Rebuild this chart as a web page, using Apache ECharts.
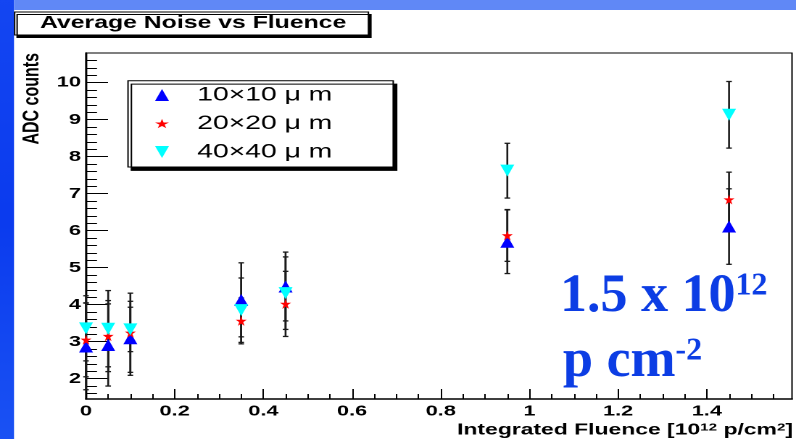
<!DOCTYPE html>
<html>
<head>
<meta charset="utf-8">
<script src="https://cdn.jsdelivr.net/npm/echarts@6/dist/echarts.min.js"></script>
<style>
  html, body { margin: 0; padding: 0; background: #ffffff; overflow: hidden; }
  /* the ROOT canvas is drawn narrow and widened horizontally, like the pasted slide figure */
  #chart { width: 549px; height: 439px; transform: scaleX(1.449909); transform-origin: 0 0; }
</style>
</head>
<body>
<div id="chart"></div>
<script>
// Average noise (ADC counts) of three pixel sizes versus integrated proton fluence
const fluence = [0, 0.05, 0.1, 0.35, 0.45, 0.95, 1.45];          // 10^12 p/cm^2

const noise10 = [2.87, 2.91, 3.09, 4.13, 4.49, 5.70, 6.11];
const err10   = [1.17, 1.11, 1.00, 1.00, 0.93, 0.86, 1.02];

const noise20 = [3.05, 3.15, 3.24, 3.56, 4.02, 5.87, 6.84];
const err20   = [1.00, 0.96, 1.07, 0.62, 0.88, 0.70, 0.74];

const noise40 = [3.36, 3.35, 3.33, 3.85, 4.31, 7.62, 9.13];
const err40   = [0.88, 1.03, 0.60, 0.87, 0.98, 0.74, 0.90];

const seriesNames = ['10×10 μ m', '20×20 μ m', '40×40 μ m'];

// axis ticks / labels
const xTicks = [0, 0.2, 0.4, 0.6, 0.8, 1, 1.2, 1.4];
const yTicks = [2, 3, 4, 5, 6, 7, 8, 9, 10];
const xRange = [0, 1.592];
const yRange = [1.45, 10.8];

// minor ticks: every 0.05 on x, every 0.2 on y
function steps(from, to, step) {
  const out = [];
  for (let k = Math.round(from / step); k * step <= to + 1e-9; k++) out.push(+(k * step).toFixed(4));
  return out;
}
const xMinor = steps(0.05, 1.55, 0.05);
const yMinor = steps(1.6, 10.6, 0.2);

const S = 796 / 549;            // horizontal widening of the canvas
const X = v => v / S;           // screen px -> canvas px (horizontal only)

const FONT = "'Liberation Sans', Arial, Helvetica, sans-serif";
const SERIF = "'Liberation Serif', 'Times New Roman', serif";

const STAR = 'path://M50,0 L61,35 L98,35 L68,57 L79,91 L50,70 L21,91 L32,57 L2,35 L39,35 Z';
const DOWN = 'path://M0,0 L100,0 L50,124 Z';

const colors = ['#0000ff', '#ff0000', '#00ffff'];
const symbols = ['triangle', STAR, DOWN];
const sizes = [[X(14), 12], [X(11), 10], [X(14), 12]];
const values = [noise10, noise20, noise40];
const errors = [err10, err20, err40];

const gridBox = { left: X(86), top: 53, width: X(706), height: 346 };

function errorBars(params, api) {
  const x = api.value(0), y = api.value(1), e = api.value(2);
  const hi = api.coord([x, y + e]);
  const lo = api.coord([x, y - e]);
  const cap = X(2.8);
  const st = { stroke: '#1a1a1a', lineWidth: 1.3 };
  return {
    type: 'group',
    children: [
      { type: 'line', shape: { x1: hi[0], y1: hi[1], x2: lo[0], y2: lo[1] }, style: st },
      { type: 'line', shape: { x1: hi[0] - cap, y1: hi[1], x2: hi[0] + cap, y2: hi[1] }, style: st },
      { type: 'line', shape: { x1: lo[0] - cap, y1: lo[1], x2: lo[0] + cap, y2: lo[1] }, style: st }
    ]
  };
}

const series = [];
values.forEach((vals, s) => {
  series.push({
    name: 'err' + s,
    type: 'custom',
    xAxisIndex: 0, yAxisIndex: 0,
    renderItem: errorBars,
    data: fluence.map((f, i) => [f, vals[i], errors[s][i]]),
    z: 2,
    silent: true
  });
});
[0, 2, 1].forEach(s => {
  series.push({
    name: seriesNames[s],
    type: 'scatter',
    xAxisIndex: 0, yAxisIndex: 0,
    symbol: symbols[s],
    symbolSize: sizes[s],
    itemStyle: { color: colors[s], opacity: 1 },
    data: fluence.map((f, i) => [f, values[s][i]]),
    z: 3 + s,
    emphasis: { disabled: true }
  });
});

const chart = echarts.init(document.getElementById('chart'), null, { devicePixelRatio: 2 });
chart.setOption({
  animation: false,
  backgroundColor: '#ffffff',
  title: {
    text: 'Average Noise vs Fluence',
    left: X(14), top: 12,
    padding: [1.5, X(22), 1.5, X(26)],
    backgroundColor: '#ffffff',
    borderColor: '#000', borderWidth: 1,
    shadowColor: '#000', shadowBlur: 0, shadowOffsetX: X(2.5), shadowOffsetY: 2.5,
    textStyle: { fontFamily: FONT, fontWeight: 'bold', fontSize: 17.1, color: '#000', lineHeight: 20 }
  },
  legend: {
    orient: 'vertical',
    left: X(128), top: 80.7,
    data: seriesNames.map((n, s) => ({ name: n, icon: symbols[s] })),
    itemWidth: X(14), itemHeight: 12, itemGap: 8.5,
    padding: [4.3, X(61), 5, X(27)],
    backgroundColor: '#ffffff',
    borderColor: '#000', borderWidth: 1,
    shadowColor: '#000', shadowBlur: 0, shadowOffsetX: X(3.4), shadowOffsetY: 3.4,
    selectedMode: false,
    textStyle: { fontFamily: FONT, fontSize: 19.5, color: '#000', lineHeight: 20, padding: [0, 0, 0, X(21)] }
  },
  grid: [
    Object.assign({ show: true, borderColor: '#000', borderWidth: 1, backgroundColor: 'transparent', outerBoundsMode: 'none' }, gridBox),
    Object.assign({ show: false, outerBoundsMode: 'none' }, gridBox)
  ],
  xAxis: [
    {
      gridIndex: 0, type: 'value', min: xRange[0], max: xRange[1],
      axisLine: { show: true, onZero: false, lineStyle: { color: '#000', width: 1.5 } },
      axisTick: { show: true, inside: true, length: 10, customValues: xTicks, lineStyle: { color: '#000', width: 1 } },
      axisLabel: { customValues: xTicks, margin: 5, fontFamily: FONT, fontWeight: 'bold', fontSize: 15, color: '#000' },
      splitLine: { show: false }
    },
    {
      gridIndex: 1, type: 'value', min: xRange[0], max: xRange[1],
      axisLine: { show: false, onZero: false },
      axisTick: { show: true, inside: true, length: 5, customValues: xMinor, lineStyle: { color: '#000', width: 1 } },
      axisLabel: { show: false },
      splitLine: { show: false }
    }
  ],
  yAxis: [
    {
      gridIndex: 0, type: 'value', min: yRange[0], max: yRange[1],
      axisLine: { show: true, onZero: false, lineStyle: { color: '#000', width: 1.4 } },
      axisTick: { show: true, inside: true, length: X(22), customValues: yTicks, lineStyle: { color: '#000', width: 1 } },
      axisLabel: { customValues: yTicks, margin: X(5), fontFamily: FONT, fontWeight: 'bold', fontSize: 15, color: '#000' },
      splitLine: { show: false }
    },
    {
      gridIndex: 1, type: 'value', min: yRange[0], max: yRange[1],
      axisLine: { show: false, onZero: false },
      axisTick: { show: true, inside: true, length: X(11), customValues: yMinor, lineStyle: { color: '#000', width: 1 } },
      axisLabel: { show: false },
      splitLine: { show: false }
    }
  ],
  graphic: [
    {
      type: 'rect', x: 0, y: 0, z: -10, silent: true,
      shape: { width: X(14), height: 439 },
      style: {
        fill: new echarts.graphic.LinearGradient(0, 0, 0, 1, [
          { offset: 0, color: '#1446f2' }, { offset: 0.5, color: '#0b3bee' }, { offset: 1, color: '#1a52f4' }
        ])
      }
    },
    {
      type: 'rect', x: X(14), y: 0, z: -10, silent: true,
      shape: { width: X(782), height: 10 },
      style: { fill: '#6088f6' }
    },
    {
      type: 'text', x: X(32), y: 53, rotation: Math.PI / 2, silent: true,
      style: { text: 'ADC counts', fontFamily: FONT, fontWeight: 'bold', fontSize: 16, fill: '#000', align: 'right', verticalAlign: 'middle' }
    },
    {
      type: 'text', x: X(793), y: 430, silent: true,
      style: {
        text: 'Integrated Fluence [10{s|12} p/cm{s|2}]',
        fontFamily: FONT, fontWeight: 'bold', fontSize: 15.8, fill: '#000',
        align: 'right', verticalAlign: 'middle',
        rich: { s: { fontFamily: FONT, fontWeight: 'bold', fontSize: 10.5, fill: '#000', verticalAlign: 'top' } }
      }
    },
    {
      type: 'text', x: X(560), y: 297, scaleX: 1 / S, silent: true,
      style: {
        text: '1.5 x 10{s|12}',
        fontFamily: SERIF, fontWeight: 'bold', fontSize: 54, fill: '#0c3de4',
        align: 'left', verticalAlign: 'middle',
        rich: { s: { fontFamily: SERIF, fontWeight: 'bold', fontSize: 32, fill: '#0c3de4', verticalAlign: 'top' } }
      }
    },
    {
      type: 'text', x: X(563), y: 362, scaleX: 1 / S, silent: true,
      style: {
        text: 'p cm{s|-2}',
        fontFamily: SERIF, fontWeight: 'bold', fontSize: 54, fill: '#0c3de4',
        align: 'left', verticalAlign: 'middle',
        rich: { s: { fontFamily: SERIF, fontWeight: 'bold', fontSize: 32, fill: '#0c3de4', verticalAlign: 'top' } }
      }
    }
  ],
  series: series
});
</script>
</body>
</html>
